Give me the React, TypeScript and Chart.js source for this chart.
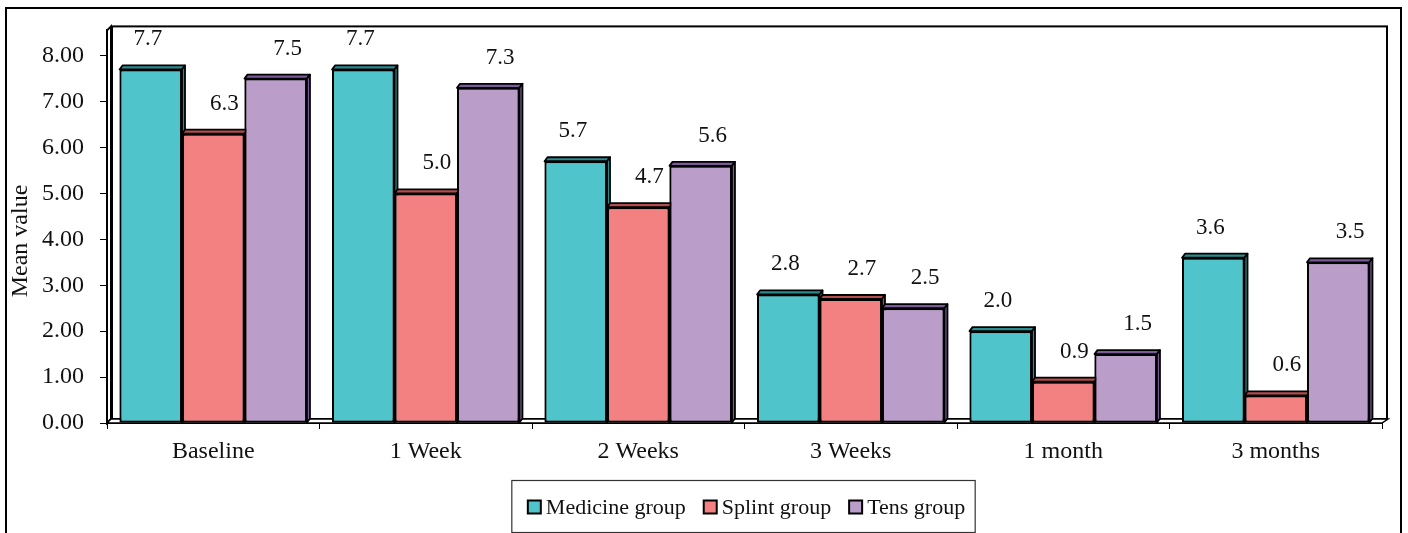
import React, { useEffect, useRef } from "react";
import { Chart, registerables } from "chart.js";

Chart.register(...registerables);

const categories = ["Baseline", "1 Week", "2 Weeks", "3 Weeks", "1 month", "3 months"];
const medicineGroup = [7.7, 7.7, 5.7, 2.8, 2.0, 3.6];
const splintGroup = [6.3, 5.0, 4.7, 2.7, 0.9, 0.6];
const tensGroup = [7.5, 7.3, 5.6, 2.5, 1.5, 3.5];
const seriesNames = ["Medicine group", "Splint group", "Tens group"];
const yTicks = [0, 1, 2, 3, 4, 5, 6, 7, 8];

const FRONT = ["#4FC4CA", "#F38181", "#BB9DCA"];
const SHADE = ["#2B8C90", "#B34C4C", "#7A5A98"];
const FONT = "'Liberation Serif', 'Times New Roman', serif";

// depth of the pseudo-3D extrusion
const BAR_DX = 3;
const BAR_DY = -4;
const WALL_DX = 4;
const WALL_DY = -4;

const LABEL_DX = [-3, 11, 12];
const LABEL_DY = -30;

const framePlugin = {
  id: "frame",
  beforeDraw(chart: any) {
    const { ctx, width, height } = chart;
    ctx.save();
    ctx.fillStyle = "#ffffff";
    ctx.fillRect(0, 0, width, height);
    ctx.strokeStyle = "#000";
    ctx.lineWidth = 2;
    ctx.strokeRect(6, 8, 1395, height + 20);
    ctx.restore();
  },
  beforeDatasetsDraw(chart: any) {
    const { ctx, chartArea } = chart;
    const { left: L, right: R, top: T, bottom: B } = chartArea;
    ctx.save();
    ctx.strokeStyle = "#000";
    ctx.lineWidth = 2;
    // back wall
    ctx.strokeRect(L + WALL_DX + 1, T + WALL_DY, R - L, B - T);
    // left side wall
    ctx.fillStyle = "#fff";
    ctx.beginPath();
    ctx.moveTo(L, T);
    ctx.lineTo(L + WALL_DX, T + WALL_DY);
    ctx.lineTo(L + WALL_DX, B + WALL_DY);
    ctx.lineTo(L, B);
    ctx.closePath();
    ctx.fill();
    ctx.stroke();
    // floor
    ctx.beginPath();
    ctx.moveTo(L, B);
    ctx.lineTo(R, B);
    ctx.lineTo(R + WALL_DX + 2, B + WALL_DY);
    ctx.lineTo(L + WALL_DX, B + WALL_DY);
    ctx.closePath();
    ctx.fill();
    ctx.lineWidth = 1.5;
    ctx.stroke();
    ctx.restore();
  },
  afterDatasetsDraw(chart: any) {
    const { ctx } = chart;
    const metas = chart.data.datasets.map((_: any, i: number) => chart.getDatasetMeta(i));
    ctx.save();
    for (let j = 0; j < categories.length; j++) {
      metas.forEach((meta: any, i: number) => {
        const el = meta.data[j];
        if (!el) return;
        el.draw(ctx);
        const x0 = el.x - el.width / 2;
        const x1 = el.x + el.width / 2;
        const y = el.y;
        const base = el.base;
        ctx.fillStyle = SHADE[i];
        ctx.strokeStyle = "#000";
        ctx.lineWidth = 1.8;
        ctx.lineJoin = "round";
        // top face
        ctx.beginPath();
        ctx.moveTo(x0, y);
        ctx.lineTo(x1, y);
        ctx.lineTo(x1 + BAR_DX, y + BAR_DY);
        ctx.lineTo(x0 + BAR_DX, y + BAR_DY);
        ctx.closePath();
        ctx.fill();
        ctx.stroke();
        // right side face
        ctx.beginPath();
        ctx.moveTo(x1, y);
        ctx.lineTo(x1 + BAR_DX, y + BAR_DY);
        ctx.lineTo(x1 + BAR_DX, base + BAR_DY);
        ctx.lineTo(x1, base);
        ctx.closePath();
        ctx.fill();
        ctx.stroke();
      });
    }
    // value labels
    ctx.fillStyle = "#111";
    ctx.font = `23px ${FONT}`;
    ctx.textAlign = "center";
    ctx.textBaseline = "middle";
    metas.forEach((meta: any, i: number) => {
      const values = chart.data.datasets[i].data;
      meta.data.forEach((el: any, j: number) => {
        ctx.fillText(Number(values[j]).toFixed(1), el.x + LABEL_DX[i], el.y + LABEL_DY);
      });
    });
    ctx.restore();
  },
  afterDraw(chart: any) {
    const { ctx, chartArea } = chart;
    ctx.save();
    // y-axis title
    ctx.fillStyle = "#111";
    ctx.font = `24px ${FONT}`;
    ctx.textAlign = "center";
    ctx.textBaseline = "middle";
    ctx.translate(21, 241);
    ctx.rotate(-Math.PI / 2);
    ctx.fillText("Mean value", 0, 0);
    ctx.restore();

    // legend
    ctx.save();
    ctx.font = `22px ${FONT}`;
    ctx.textBaseline = "middle";
    ctx.textAlign = "left";
    const box = 13;
    const gapBoxText = 5;
    const gapItems = 18;
    const widths = seriesNames.map((n) => ctx.measureText(n).width);
    const total =
      widths.reduce((a, b) => a + b, 0) + seriesNames.length * (box + gapBoxText) + gapItems * (seriesNames.length - 1);
    const cx = (chartArea.left + chartArea.right) / 2 + 2;
    let x = cx - total / 2;
    const cy = 507;
    ctx.strokeStyle = "#333";
    ctx.lineWidth = 1.2;
    ctx.strokeRect(x - 16, 480.5, total + 26, 52);
    seriesNames.forEach((name, i) => {
      ctx.fillStyle = FRONT[i];
      ctx.fillRect(x, cy - box / 2, box, box);
      ctx.strokeStyle = "#000";
      ctx.lineWidth = 2;
      ctx.strokeRect(x, cy - box / 2, box, box);
      ctx.fillStyle = "#111";
      ctx.fillText(name, x + box + gapBoxText, cy + 1);
      x += box + gapBoxText + widths[i] + gapItems;
    });
    ctx.restore();
  },
};

export default function App() {
  const canvasRef = useRef<HTMLCanvasElement | null>(null);

  useEffect(() => {
    const canvas = canvasRef.current;
    if (!canvas) return;
    const series = [medicineGroup, splintGroup, tensGroup];
    const chart = new Chart(canvas, {
      type: "bar",
      data: {
        labels: categories,
        datasets: series.map((values, i) => ({
          label: seriesNames[i],
          data: values,
          backgroundColor: FRONT[i],
          borderColor: "#000",
          borderWidth: 2,
          borderSkipped: false,
          categoryPercentage: 0.882,
          barPercentage: 1,
        })),
      },
      options: {
        responsive: false,
        animation: false,
        devicePixelRatio: 1,
        layout: { padding: { top: 28, right: 26, bottom: 0, left: 0 } },
        plugins: {
          legend: { display: false },
          tooltip: { enabled: false },
        },
        scales: {
          x: {
            afterFit(scale: any) {
              scale.height = 110;
            },
            grid: {
              offset: true,
              drawOnChartArea: false,
              drawTicks: true,
              tickLength: 6,
              color: "#000",
              lineWidth: 1,
            },
            border: { display: true, color: "#000", width: 2 },
            ticks: {
              color: "#111",
              font: { family: FONT, size: 24 },
              padding: 8,
              maxRotation: 0,
            },
          },
          y: {
            min: 0,
            max: 8.55,
            afterFit(scale: any) {
              scale.width = 107;
            },
            afterBuildTicks(scale: any) {
              scale.ticks = yTicks.map((v) => ({ value: v }));
            },
            grid: {
              drawOnChartArea: false,
              drawTicks: true,
              tickLength: 7,
              color: "#000",
              lineWidth: 1,
            },
            border: { display: true, color: "#000", width: 2 },
            ticks: {
              color: "#111",
              font: { family: FONT, size: 24 },
              padding: 16,
              callback: (v: any) => Number(v).toFixed(2),
            },
          },
        },
      },
      plugins: [framePlugin],
    });
    return () => chart.destroy();
  }, []);

  return (
    <div style={{ position: "absolute", left: 0, top: 0, width: 1408, height: 533 }}>
      <canvas ref={canvasRef} width={1408} height={533} />
    </div>
  );
}
